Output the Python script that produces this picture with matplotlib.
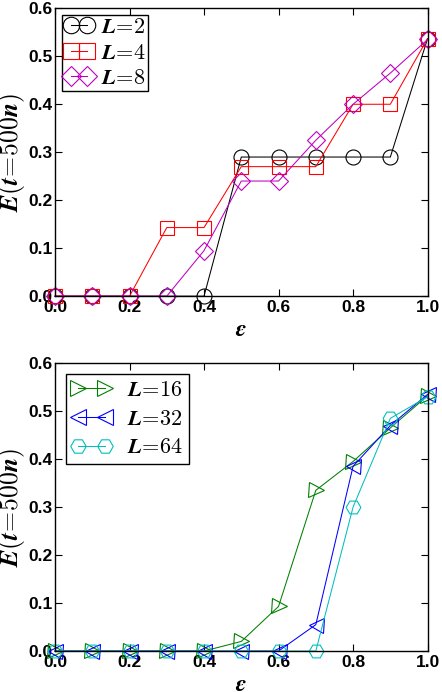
import matplotlib
matplotlib.use("Agg")
import matplotlib.pyplot as plt
import numpy as np

plt.rcParams['mathtext.fontset'] = 'cm'
plt.rcParams['font.family'] = ['Liberation Sans', 'DejaVu Sans']

eps = [0.0, 0.1, 0.2, 0.3, 0.4, 0.5, 0.6, 0.7, 0.8, 0.9, 1.0]
E_L2 = [0, 0, 0, 0, 0, 0.29, 0.29, 0.29, 0.29, 0.29, 0.537]
E_L4 = [0, 0, 0, 0.143, 0.143, 0.27, 0.27, 0.27, 0.40, 0.40, 0.537]
E_L8 = [0, 0, 0, 0, 0.095, 0.24, 0.24, 0.325, 0.40, 0.465, 0.535]
E_L16 = [0, 0, 0, 0, 0, 0.02, 0.093, 0.335, 0.395, 0.465, 0.532]
E_L32 = [0, 0, 0, 0, 0, 0, 0, 0.055, 0.385, 0.47, 0.535]
E_L64 = [0, 0, 0, 0, 0, 0, 0, 0, 0.30, 0.485, 0.53]

xticks = [0.0, 0.2, 0.4, 0.6, 0.8, 1.0]
yticks = [0.0, 0.1, 0.2, 0.3, 0.4, 0.5, 0.6]

fig = plt.figure(figsize=(4.42, 6.92), dpi=100)
ax1 = fig.add_axes([0.1244, 0.572, 0.843, 0.416])
ax2 = fig.add_axes([0.1244, 0.0592, 0.843, 0.416])

def style(ax):
    ax.set_xlim(0, 1)
    ax.set_ylim(0, 0.6)
    ax.set_xticks(xticks)
    ax.set_yticks(yticks)
    ax.set_xticklabels(['%.1f' % v for v in xticks], fontweight='bold', fontsize=12.5)
    ax.set_yticklabels(['%.1f' % v for v in yticks], fontweight='bold', fontsize=12.5)
    ax.tick_params(direction='in', top=True, right=True, length=5, width=0.8)
    ax.tick_params(axis='x', pad=3)
    ax.tick_params(axis='y', pad=2)
    for s in ax.spines.values():
        s.set_linewidth(1.0)
    ax.set_xlabel(r'$\boldsymbol{\epsilon}$', fontsize=17)
    ax.xaxis.set_label_coords(0.5, -0.08)
    ax.set_ylabel(r'$\boldsymbol{E(t\!=\!500n)}$', fontsize=18.5)
    ax.yaxis.set_label_coords(-0.076, 0.5)

ms1 = {'o': 10.8, 's': 10.4, 'D': 9.6}
series1 = [(E_L2, 'o', 'k', r'$\boldsymbol{L\!=\!2}$'),
           (E_L4, 's', 'r', r'$\boldsymbol{L\!=\!4}$'),
           (E_L8, 'D', 'm', r'$\boldsymbol{L\!=\!8}$')]
for y, m, c, lab in series1:
    ax1.plot(eps, y, marker=m, color=c, mfc='none', mec=c, ms=ms1[m],
             lw=0.75, mew=0.8, label=lab, clip_on=False)
style(ax1)
leg1 = ax1.legend(loc='upper left', numpoints=2, fontsize=16, handlelength=1.36,
                  handletextpad=0.3, borderpad=0.08, labelspacing=0.2,
                  borderaxespad=0.32, markerscale=1.1,
                  fancybox=False, framealpha=1, edgecolor='k')
leg1.get_frame().set_linewidth(1.0)

ms2 = {'>': 10.8, '<': 10.8, 'H': 10.6}
series2 = [(E_L16, '>', 'g', r'$\boldsymbol{L\!=\!16}$'),
           (E_L32, '<', 'b', r'$\boldsymbol{L\!=\!32}$'),
           (E_L64, 'H', 'c', r'$\boldsymbol{L\!=\!64}$')]
for y, m, c, lab in series2:
    ax2.plot(eps, y, marker=m, color=c, mfc='none', mec=c, ms=ms2[m],
             lw=0.75, mew=0.8, label=lab, clip_on=False)
style(ax2)
leg2 = ax2.legend(loc='upper left', numpoints=2, fontsize=16, handlelength=1.8,
                  handletextpad=0.7, borderpad=0.25, labelspacing=0.35,
                  borderaxespad=0.5, markerscale=1.05,
                  fancybox=False, framealpha=1, edgecolor='k')
leg2.get_frame().set_linewidth(1.0)

fig.savefig('out.png', dpi=100)
